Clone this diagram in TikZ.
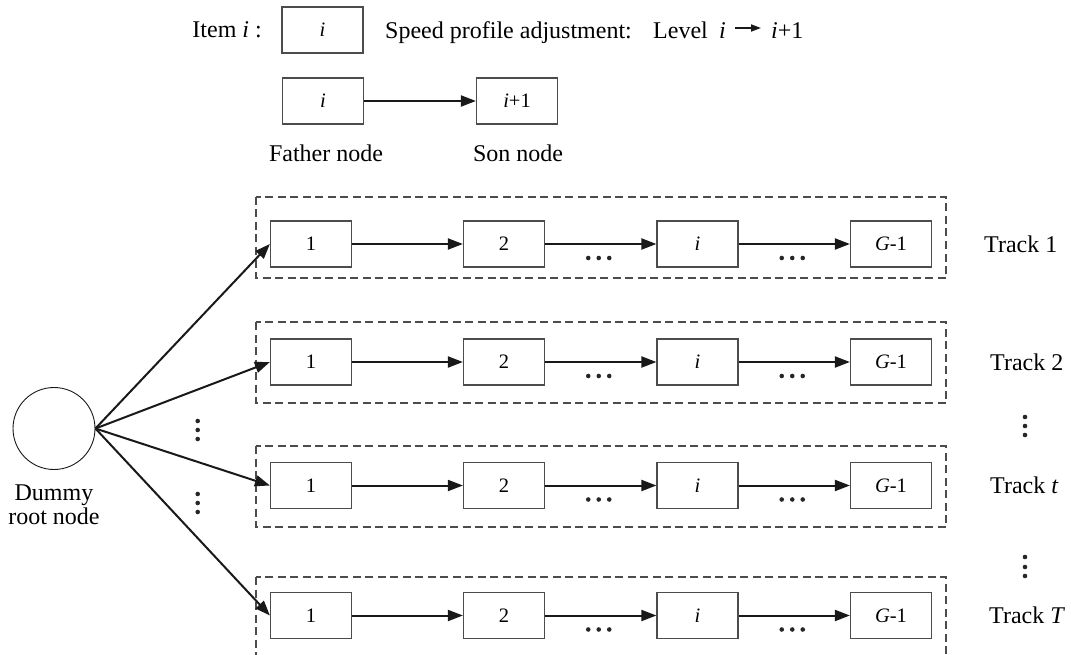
\documentclass[tikz,border=0pt]{standalone}
\usepackage{fontspec}
\setmainfont{Liberation Serif}
\usetikzlibrary{arrows.meta,calc}
\begin{document}
\begin{tikzpicture}[x=1pt,y=-1pt,
  item/.style={draw=black!70, line width=1.2pt, minimum width=81pt, minimum height=46pt, inner sep=0pt, font=\fontsize{20.5}{24}\selectfont},
  lab/.style={inner sep=0pt, font=\fontsize{24}{24}\selectfont},
  trackbox/.style={draw=black!70, line width=1.1pt, dash pattern=on 8pt off 4.5pt},
  conn/.style={draw=black!90, line width=2pt, -{Triangle[length=15pt,width=11pt]}},
  smallconn/.style={draw=black!90, line width=1.7pt, -{Triangle[length=10pt,width=7pt]}},
  dotf/.style={fill=black!85}
]
\useasboundingbox (0,0) rectangle (1071,655);

% ---- legend ----
\node[lab, anchor=east] (itemlab) at (262,30) {Item \textit{i} :};
\node[item] (itemi) at (322.5,30) {\textit{i}};
\node[lab, anchor=base west] (spa) at (385,39) {Speed profile adjustment:};
\node[lab, anchor=base west] (lvl) at (653,39) {Level};
\node[lab, anchor=base west] (li) at (719,39) {\textit{i}};
\node[lab, anchor=base west] (lip) at (771,39) {\textit{i}+1};
\draw[smallconn] ($(li.base east)+(9,-11)$) -- ($(lip.base west)+(-10,-11)$);

\node[item] (father) at (323,101) {\textit{i}};
\node[item] (son) at (517,101) {\textit{i}+1};
\draw[conn] (father) -- (son);
\node[lab, anchor=base] (fatherlab) at (326,162) {Father node};
\node[lab, anchor=base] (sonlab) at (518,162) {Son node};

% ---- root ----
\node[draw=black!90, circle, minimum size=82pt, line width=0.9pt, inner sep=0pt] (root) at (54,428.5) {};
\node[lab, anchor=north, align=center] (rootlab) at (54,485) {Dummy\\root node};

% ---- tracks ----
\foreach \r/\c/\t/\lx/\lab in {1/244/197/984/{Track 1}, 2/362/322/990/{Track 2}, 3/485.5/446/990/{Track \textit{t}}, 4/615.5/577/989/{Track \textit{T}}}{
  \draw[trackbox] (256,\t) rectangle (946,\t+81);
  \node[item] (r\r b1) at (311,\c) {1};
  \node[item] (r\r b2) at (504,\c) {2};
  \node[item] (r\r b3) at (697.5,\c) {\textit{i}};
  \node[item] (r\r b4) at (891,\c) {\textit{G}-1};
  \draw[conn] (r\r b1) -- (r\r b2);
  \draw[conn] (r\r b2) -- (r\r b3);
  \draw[conn] (r\r b3) -- (r\r b4);
  \draw[conn] (root.east) -- (r\r b1.west);
  \foreach \dx in {-10.5,0,10.5}{
    \fill[dotf] ($($(r\r b2.east)!0.5!(r\r b3.west)$)+(\dx-2,14)$) circle (2.3pt);
    \fill[dotf] ($($(r\r b3.east)!0.5!(r\r b4.west)$)+(\dx-2,14)$) circle (2.3pt);
  }
  \node[lab, anchor=west] (tl\r) at (\lx,\c) {\lab};
}

% ---- vertical dots ----
\foreach \y in {421,430,439,494,503,512}{
  \fill[dotf] (197.7,\y) circle (2.3pt);
}
\foreach \y in {417,426,435,557,567,576}{
  \fill[dotf] (1025,\y) circle (2.3pt);
}
\end{tikzpicture}
\end{document}
